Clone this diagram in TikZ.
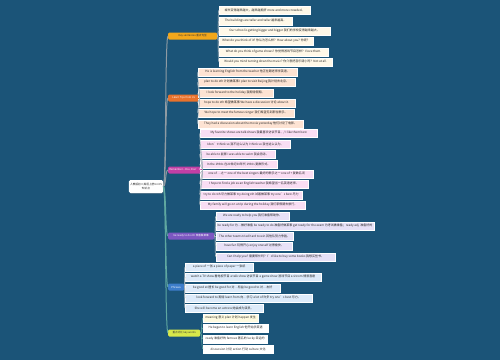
\documentclass[tikz,border=0pt]{standalone}
\usepackage{fontspec}
\setmainfont{Noto Sans CJK SC}
\usetikzlibrary{shadows}

\definecolor{bgblue}{HTML}{1B5478}
\definecolor{gold}{HTML}{F2A71B}
\definecolor{tangerine}{HTML}{E8722C}
\definecolor{magenta}{HTML}{C23FA5}
\definecolor{violet}{HTML}{7D57C1}
\definecolor{skyblue}{HTML}{3D7DCA}
\definecolor{lime}{HTML}{D8E84A}
\definecolor{cream}{HTML}{FFF8E8}
\definecolor{peach}{HTML}{FDE3D3}
\definecolor{pinky}{HTML}{F9DDF3}
\definecolor{lavender}{HTML}{E7E1F7}
\definecolor{paleblue}{HTML}{DDEBFA}
\definecolor{paleyellow}{HTML}{FEFBE0}
\definecolor{stemgray}{HTML}{8F9BA3}
\definecolor{stemteal}{HTML}{5FA7A0}
\definecolor{twiggray}{HTML}{A7B4BC}

\newcommand\leaffont{\fontsize{3}{3.6}\selectfont}
\newcommand\branchfont{\fontsize{2.6}{3.1}\selectfont}
\newcommand\rootfont{\fontsize{2.7}{3.4}\selectfont}

\begin{document}
\begin{tikzpicture}[x=1pt, y=-1pt,
    leaf/.style={draw=white, line width=0.25pt, fill=#1, anchor=west,
                 inner xsep=1.5pt, inner ysep=0pt, minimum height=7.5pt,
                 font=\leaffont, text=black!85,
                 drop shadow={shadow xshift=0.5pt, shadow yshift=-0.6pt, opacity=0.45}},
    branch/.style={fill=#1, rounded corners=1.2pt, anchor=west,
                   inner xsep=1.2pt, inner ysep=0pt, minimum height=7pt,
                   font=\branchfont, text=white},
    root/.style={fill=white, rounded corners=1.5pt, align=center,
                 inner sep=1.2pt, minimum width=34pt, minimum height=13pt,
                 font=\rootfont, text=black!85,
                 drop shadow={shadow xshift=0.5pt, shadow yshift=-0.6pt, opacity=0.45}},
    stem/.style={line width=1pt, draw=#1},
    twig/.style={line width=0.6pt, draw=#1},
  ]

  \fill[bgblue] (0,0) rectangle (500,360);
  \useasboundingbox (0,0) rectangle (500,360);

  \node[root] (root) at (146,186.5) {人教版初二英语上册Unit 5\\知识点};

  % main branches
  \node[branch=gold, text=black!80, minimum width=49pt] (b1) at (168,36) {Key sentences 重点句型};
  \node[branch=tangerine, minimum width=31pt] (b2) at (168,98) {Learn Tips from Us};
  \node[branch=magenta, minimum width=30pt] (b3) at (168,170) {Remember – Dos, Don'ts};
  \node[branch=violet, minimum width=46pt] (b4) at (168,236) {be ready to do sth 准备做某事};
  \node[branch=skyblue, minimum width=16pt] (b5) at (168,287) {Phrases};
  \node[branch=lime, text=black!80, minimum width=32pt] (b6) at (168,333) {重点词汇 key words};

  % leaves of b1
  \node[leaf=cream, minimum width=91pt] (a1) at (219,10) {城市变得越来越大，越来越拥挤 more and more crowded。};
  \node[leaf=cream, minimum width=73pt] (a2) at (219,21) {The buildings are taller and taller 越来越高。};
  \node[leaf=cream, minimum width=111pt] (a3) at (219,31) {Our school is getting bigger and bigger 我们的学校变得越来越大。};
  \node[leaf=cream, minimum width=94pt] (a4) at (219,41) {What do you think of it? 你认为怎么样？How about you? 你呢？};
  \node[leaf=cream, minimum width=109pt] (a5) at (219,52) {What do you think of game shows? 你觉得游戏节目怎样？I love them.};
  \node[leaf=cream, minimum width=113pt] (a6) at (219,62) {Would you mind turning down the music? 你介意把音乐调小吗？Not at all.};

  % leaves of b2
  \node[leaf=peach, minimum width=99pt] (c1) at (198,72) {He is learning English from the teacher 他正在跟老师学英语。};
  \node[leaf=peach, minimum width=97pt] (c2) at (198,82) {plan to do sth 计划做某事 I plan to visit Beijing 我计划去北京。};
  \node[leaf=peach, minimum width=75pt] (c3) at (198,93) {I look forward to the holiday 我期待假期。};
  \node[leaf=peach, minimum width=97pt] (c4) at (198,103) {hope to do sth 希望做某事 We have a discussion 讨论 about it.};
  \node[leaf=peach, minimum width=96pt] (c5) at (198,113) {We hope to meet the famous singer 我们希望见到那位歌手。};
  \node[leaf=peach, minimum width=105pt] (c6) at (198,124) {They had a discussion about the movie yesterday 他们讨论了电影。};

  % leaves of b3
  \node[leaf=pinky, minimum width=117pt] (d1) at (200,133) {My favorite shows are talk shows 我最喜欢访谈节目。/ I like them best};
  \node[leaf=pinky, minimum width=90pt] (d2) at (200,144) {I don't think so 我不这么认为 I think so 我也这么认为。};
  \node[leaf=pinky, minimum width=75pt] (d3) at (200,154) {be able to 能够 I was able to swim 我会游泳。};
  \node[leaf=pinky, minimum width=77pt] (d4) at (200,164) {In the 1930s 在20世纪30年代 1930s 复数形式。};
  \node[leaf=pinky, minimum width=113pt] (d5) at (200,174) {one of …之一 one of the best singers 最好的歌手之一 one of + 复数名词};
  \node[leaf=pinky, minimum width=108pt] (d6) at (200,184) {I hope to find a job as an English teacher 我希望当一名英语老师。};
  \node[leaf=pinky, minimum width=102pt] (d7) at (200,195) {try to do sth 尽力做某事 try doing sth 试着做某事 try one's best 尽力};
  \node[leaf=pinky, minimum width=105pt] (d8) at (200,205) {My family will go on a trip during the holiday 我们家假期去旅行。};

  % leaves of b4
  \node[leaf=lavender, minimum width=73pt] (e1) at (216,216) {We are ready to help you 我们准备帮助你。};
  \node[leaf=lavender, minimum width=156pt] (e2) at (216,226) {be ready for 为…做好准备 be ready to do 准备好做某事 get ready for the exam 为考试做准备；ready adj. 准备好的};
  \node[leaf=lavender, minimum width=77pt] (e3) at (216,236) {The other teams tried hard to win 其他队努力争胜。};
  \node[leaf=lavender, minimum width=76pt] (e4) at (216,246) {have fun 玩得开心 enjoy oneself 过得愉快。};
  \node[leaf=lavender, minimum width=119pt] (e5) at (216,257) {Can I help you? 需要帮忙吗？I'd like to buy some books 我想买些书。};

  % leaves of b5
  \node[leaf=paleblue, minimum width=68pt] (f1) at (185,267) {a piece of 一张 a piece of paper 一张纸};
  \node[leaf=paleblue, minimum width=136pt] (f2) at (185,277) {watch a TV show 看电视节目 a talk show 访谈节目 a game show 游戏节目 a sitcom 情景喜剧};
  \node[leaf=paleblue, minimum width=95pt] (f3) at (185,288) {be good at 擅长 be good for 对…有益 be good to 对…友好};
  \node[leaf=paleblue, minimum width=127pt] (f4) at (185,298) {look forward to 期待 learn from 向…学习 a lot of 许多 try one's best 尽力。};
  \node[leaf=paleblue, minimum width=78pt] (f5) at (185,308) {She will become an actress 她会成为演员。};

  % leaves of b6
  \node[leaf=paleyellow, minimum width=55pt] (g1) at (203,318) {meaning 意义 plan 计划 happen 发生};
  \node[leaf=white, minimum width=65pt] (g2) at (203,328) {He began to learn English 他开始学英语};
  \node[leaf=white, minimum width=64pt] (g3) at (203,339) {ready 准备好的 famous 著名的 lucky 幸运的};
  \node[leaf=white, minimum width=70pt] (g4) at (203,349) {discussion 讨论 action 行动 culture 文化};

  % root to branches
  \foreach \b in {b1,b2,b3}
    \draw[stem=stemgray] (root.east) .. controls +(3,0) and +(-3,0) .. (\b.west);
  \foreach \b in {b4,b5,b6}
    \draw[stem=stemteal] (root.east) .. controls +(3,0) and +(-3,0) .. (\b.west);

  % branches to leaves
  \foreach \l in {a1,a2,a3,a4,a5,a6}
    \draw[twig=twiggray] (b1.east) .. controls +(1.5,0) and +(-1.5,0) .. (\l.west);
  \foreach \l in {c1,c2,c3,c4,c5,c6}
    \draw[twig=twiggray] (b2.east) .. controls +(1.5,0) and +(-1.5,0) .. (\l.west);
  \foreach \l in {d1,d2,d3,d4,d5,d6,d7,d8}
    \draw[twig=twiggray] (b3.east) .. controls +(1.5,0) and +(-1.5,0) .. (\l.west);
  \foreach \l in {e1,e2,e3,e4,e5}
    \draw[twig=twiggray] (b4.east) .. controls +(1.5,0) and +(-1.5,0) .. (\l.west);
  \foreach \l in {f1,f2,f3,f4,f5}
    \draw[twig=twiggray] (b5.east) .. controls +(1,0) and +(-1,0) .. (\l.west);
  \foreach \l in {g1,g2,g3,g4}
    \draw[twig=stemteal] (b6.east) .. controls +(1.5,0) and +(-1.5,0) .. (\l.west);

\end{tikzpicture}
\end{document}
